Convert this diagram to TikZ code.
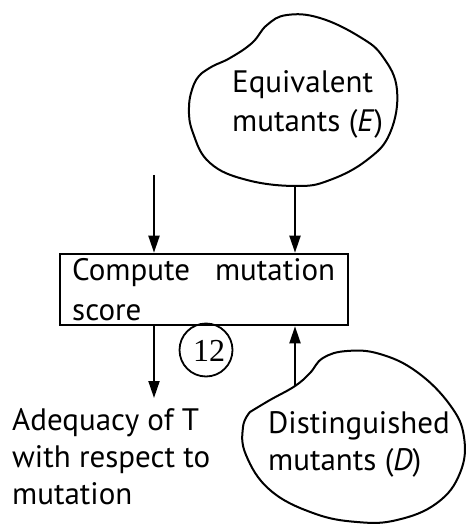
\documentclass[tikz,border=0pt]{standalone}
\usepackage{fontspec}
\setmainfont{PT Sans}
\newfontfamily\numfont{Liberation Serif}
\usetikzlibrary{arrows.meta}

\tikzset{
  lbl/.style={font=\fontsize{31}{37}\selectfont, inner sep=0pt, anchor=base west},
  blob/.style={draw, line width=2pt, line join=round},
  arr/.style={line width=2pt, -{Triangle[length=17pt, width=11pt]}},
  scorebox/.style={draw, line width=2.6pt, minimum width=288pt, minimum height=71pt, inner sep=0pt},
  tag/.style={draw, circle, line width=1.8pt, minimum size=53pt, inner sep=0pt}
}

\begin{document}
\begin{tikzpicture}[x=1pt, y=-1pt]
\useasboundingbox (0,0) rectangle (468,526);

% computation step
\node[scorebox] (box) at (204,289.5) {};
\node[lbl] (c1) at (72,280) {\makebox[263pt][s]{Compute mutation}};
\node[lbl] (c2) at (72,320) {score};

% equivalent mutants
\draw[blob] plot[smooth, tension=0.7] coordinates {
  (202,73) (213,66) (230,58) (252,43) (267,25) (287,15) (320,18) (360,37)
  (383,57) (397,90) (390,133) (367,160) (330,180) (297,186) (247,180)
  (210,163) (193,133) (189,107) (194,84) (202,73)};
\node[lbl] (e1) at (232,93) {Equivalent};
\node[lbl] (e2) at (232,132) {mutants (\textit{E})};
\coordinate (ebot) at (295,186);

% distinguished mutants
\draw[blob] plot[smooth, tension=0.7] coordinates {
  (250,412) (270,400) (295,386) (310,373) (323,358) (347,351) (380,354)
  (417,372) (450,405) (464,437) (460,473) (437,503) (397,520) (357,522)
  (313,513) (270,490) (246,455) (243,427) (250,412)};
\node[lbl] (d1) at (268,433) {Distinguished};
\node[lbl] (d2) at (268,470) {mutants (\textit{D})};
\coordinate (dtop) at (295,386);

% result
\node[lbl] (a1) at (12,430) {Adequacy of T};
\node[lbl] (a2) at (12,467) {with respect to};
\node[lbl] (a3) at (12,504) {mutation};

% step number
\node[tag] (n12) at (206,350) {};
\node[font=\numfont\fontsize{32}{32}\selectfont, inner sep=0pt] (n12t) at (209,351) {12};

% connectors
\coordinate (in1) at (154,175);
\coordinate (out1) at (154,398);
\draw[arr] (in1) -- (in1 |- box.north);
\draw[arr] (ebot) -- (ebot |- box.north);
\draw[arr] (box.south -| in1) -- (out1);
\draw[arr] (dtop) -- (dtop |- box.south);
\end{tikzpicture}
\end{document}
